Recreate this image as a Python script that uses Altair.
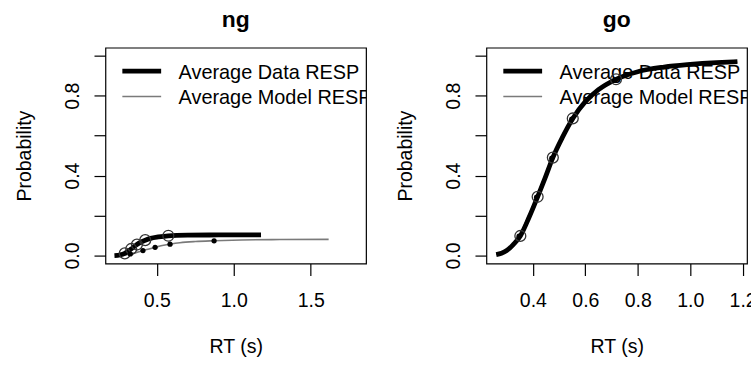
import altair as alt
import pandas as pd

# ---------------- data ----------------
panel_titles = ["ng", "go"]
legend_labels = ["Average Data RESP", "Average Model RESP"]
x_title = "RT (s)"
y_title = "Probability"

# ng panel: average data curve (thick) and average model curve (thin)
ng_data_x = [0.225, 0.26, 0.292, 0.31, 0.334, 0.352, 0.371, 0.395, 0.425, 0.46, 0.51, 0.575, 0.70, 0.90, 1.177]
ng_data_y = [0.000, 0.003, 0.011, 0.020, 0.033, 0.044, 0.055, 0.067, 0.077, 0.086, 0.093, 0.099, 0.102, 0.103, 0.104]
ng_model_x = [0.24, 0.28, 0.328, 0.37, 0.41, 0.45, 0.489, 0.535, 0.586, 0.65, 0.75, 0.872, 1.05, 1.30, 1.616]
ng_model_y = [0.000, 0.002, 0.008, 0.016, 0.025, 0.033, 0.041, 0.050, 0.057, 0.064, 0.070, 0.074, 0.078, 0.080, 0.081]
# ng quantile points: data (open circles), model (filled dots)
ng_dq_x = [0.292, 0.334, 0.371, 0.425, 0.575]
ng_dq_y = [0.011, 0.033, 0.055, 0.077, 0.099]
ng_mq_x = [0.328, 0.410, 0.489, 0.586, 0.872]
ng_mq_y = [0.008, 0.025, 0.041, 0.057, 0.074]

# go panel
go_data_x = [0.26, 0.28, 0.30, 0.325, 0.352, 0.385, 0.418, 0.447, 0.476, 0.512, 0.552, 0.60, 0.65, 0.717, 0.80, 0.90, 1.00, 1.10, 1.18]
go_data_y = [0.005, 0.012, 0.025, 0.055, 0.098, 0.19, 0.294, 0.39, 0.49, 0.59, 0.686, 0.77, 0.83, 0.882, 0.920, 0.943, 0.956, 0.965, 0.970]
go_model_x = [0.26, 0.28, 0.30, 0.325, 0.347, 0.38, 0.414, 0.443, 0.472, 0.508, 0.548, 0.596, 0.646, 0.712, 0.80, 0.90, 1.00, 1.10, 1.18]
go_model_y = [0.006, 0.014, 0.028, 0.058, 0.097, 0.19, 0.292, 0.39, 0.487, 0.587, 0.682, 0.766, 0.826, 0.877, 0.918, 0.941, 0.954, 0.962, 0.967]
go_dq_x = [0.352, 0.418, 0.476, 0.552, 0.717]
go_dq_y = [0.098, 0.294, 0.490, 0.686, 0.882]
go_mq_x = [0.347, 0.414, 0.472, 0.548, 0.712]
go_mq_y = [0.097, 0.292, 0.487, 0.682, 0.877]

# axes
ng_x_domain = [0.1665, 1.859]
go_x_domain = [0.2226, 1.2167]
ng_x_ticks = [0.5, 1.0, 1.5]
go_x_ticks = [0.4, 0.6, 0.8, 1.0, 1.2]
y_domain = [-0.04, 1.04]
y_ticks = [0.0, 0.2, 0.4, 0.6, 0.8, 1.0]
y_labelled = [0.0, 0.4, 0.8]

# ---------------- styling ----------------
FONT = "Liberation Sans"
FS = 19.6
LFS = 20
W, H = 262, 217
THICK = 4.8
THIN = 1.6
GREY = "#7a7a7a"

label_expr = "(" + " || ".join(
    f"abs(datum.value - {v}) < 1e-6" for v in y_labelled
) + ") ? format(datum.value, '.1f') : ''"


def panel(title, dx, dy, mx, my, dqx, dqy, mqx, mqy, xdom, xticks):
    xs = alt.Scale(domain=xdom, nice=False, zero=False)
    ys = alt.Scale(domain=y_domain, nice=False, zero=False)
    xax = alt.Axis(
        values=xticks, format=".1f", grid=False, domain=False,
        tickSize=12, tickColor="black", tickWidth=1.2,
        labelFont=FONT, labelFontSize=FS, labelColor="black",
        labelPadding=31, labelBaseline="alphabetic", labelAlign="center",
        labelFlush=False, labelOverlap=False,
        title=x_title, titleFont=FONT, titleFontSize=FS, titleFontWeight="normal",
        titleColor="black", titleX=W / 2, titleY=89,
        titleBaseline="alphabetic", titleAlign="center",
    )
    yax = alt.Axis(
        values=y_ticks, labelExpr=label_expr, grid=False, domain=False,
        tickSize=11.5, tickColor="black", tickWidth=1.2,
        labelFont=FONT, labelFontSize=FS, labelColor="black",
        labelAngle=270, labelAlign="center", labelBaseline="alphabetic",
        labelPadding=16, labelFlush=False, labelOverlap=False,
        title=y_title, titleFont=FONT, titleFontSize=FS, titleFontWeight="normal",
        titleColor="black", titleAngle=270, titleX=-75.5, titleY=H / 2,
        titleBaseline="alphabetic", titleAlign="center",
    )
    X = alt.X("x:Q", scale=xs, axis=xax)
    Y = alt.Y("y:Q", scale=ys, axis=yax)

    model_line = alt.Chart(pd.DataFrame({"x": mx, "y": my})).mark_line(
        color=GREY, strokeWidth=THIN, interpolate="monotone", clip=True
    ).encode(x=X, y=Y)
    data_line = alt.Chart(pd.DataFrame({"x": dx, "y": dy})).mark_line(
        color="black", strokeWidth=THICK, interpolate="monotone", clip=True
    ).encode(x=X, y=Y)
    data_pts = alt.Chart(pd.DataFrame({"x": dqx, "y": dqy})).mark_point(
        shape="circle", filled=False, size=120, stroke="#333333",
        strokeWidth=1.3, opacity=1, clip=True
    ).encode(x=X, y=Y)
    model_pts = alt.Chart(pd.DataFrame({"x": mqx, "y": mqy})).mark_point(
        shape="circle", filled=True, size=28, color="black", opacity=1, clip=True
    ).encode(x=X, y=Y)

    leg_df1 = pd.DataFrame({"label": [legend_labels[0]]})
    leg_df2 = pd.DataFrame({"label": [legend_labels[1]]})
    leg_rule1 = alt.Chart(leg_df1).mark_rule(color="black", strokeWidth=THICK).encode(
        x=alt.value(17), x2=alt.value(56), y=alt.value(23.5))
    leg_rule2 = alt.Chart(leg_df2).mark_rule(color=GREY, strokeWidth=THIN).encode(
        x=alt.value(17), x2=alt.value(56), y=alt.value(49))
    leg_txt1 = alt.Chart(leg_df1).mark_text(
        align="left", baseline="alphabetic", font=FONT, fontSize=LFS,
        color="black", clip=True
    ).encode(x=alt.value(73.5), y=alt.value(31), text="label:N")
    leg_txt2 = alt.Chart(leg_df2).mark_text(
        align="left", baseline="alphabetic", font=FONT, fontSize=LFS,
        color="black", clip=True
    ).encode(x=alt.value(73.5), y=alt.value(56.3), text="label:N")

    return alt.layer(
        leg_rule1, leg_rule2, leg_txt1, leg_txt2,
        model_line, data_line, data_pts, model_pts,
    ).properties(
        width=W, height=H,
        title=alt.TitleParams(
            text=title, font=FONT, fontSize=23, fontWeight="bold",
            color="black", anchor="middle", baseline="alphabetic",
            offset=-2, frame="group",
        ),
    )


left = panel(panel_titles[0], ng_data_x, ng_data_y, ng_model_x, ng_model_y,
             ng_dq_x, ng_dq_y, ng_mq_x, ng_mq_y, ng_x_domain, ng_x_ticks)
right = panel(panel_titles[1], go_data_x, go_data_y, go_model_x, go_model_y,
              go_dq_x, go_dq_y, go_mq_x, go_mq_y, go_x_domain, go_x_ticks)

chart = alt.hconcat(left, right, spacing=121, bounds="flush").properties(
    padding={"left": 13, "top": 7, "right": -6, "bottom": 0},
    background="white",
).configure_view(
    stroke="black", strokeWidth=1.2
)

chart.save("out.html", embed_options={"renderer": "svg", "actions": False})
